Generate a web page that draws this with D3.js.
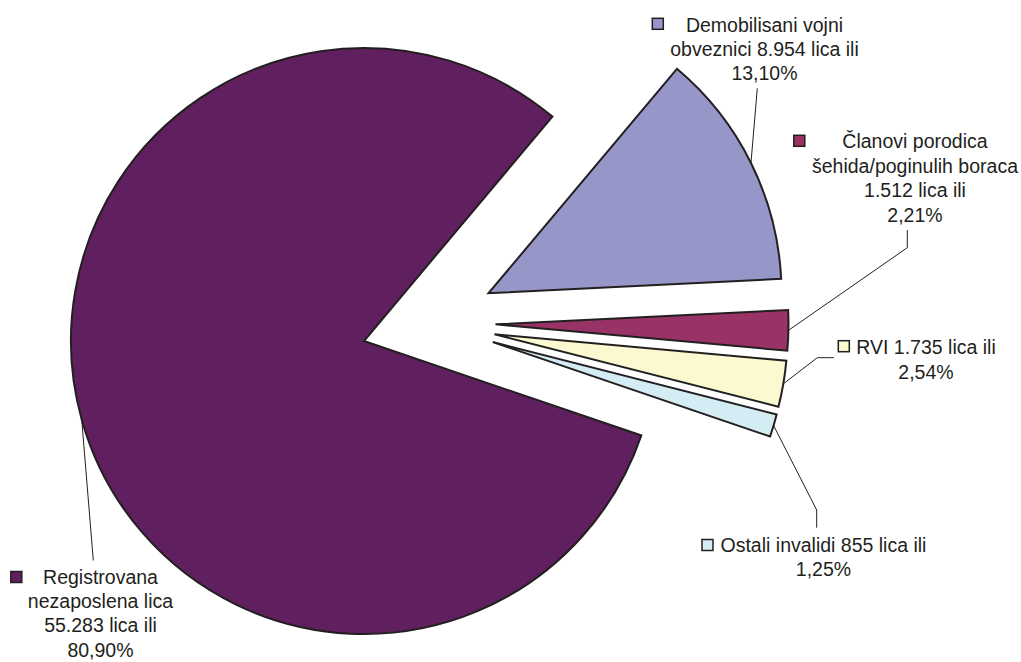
<!DOCTYPE html>
<html>
<head>
<meta charset="utf-8">
<script src="https://cdn.jsdelivr.net/npm/d3@7"></script>
<style>
  html, body { margin: 0; padding: 0; background: #ffffff; }
  svg { display: block; }
  text { font-family: "Liberation Sans", Arial, sans-serif; fill: #231f20; }
</style>
</head>
<body>
<svg id="chart" width="1021" height="662"></svg>
<script>
// ---- data ----
const categories = [
  "Registrovana nezaposlena lica",
  "Demobilisani vojni obveznici",
  "Članovi porodica šehida/poginulih boraca",
  "RVI",
  "Ostali invalidi"
];
const values = [55283, 8954, 1512, 1735, 855];
const percentLabels = ["80,90%", "13,10%", "2,21%", "2,54%", "1,25%"];
const labelLines = [
  ["Registrovana", "nezaposlena lica", "55.283 lica ili", "80,90%"],
  ["Demobilisani vojni", "obveznici 8.954 lica ili", "13,10%"],
  ["Članovi porodica", "šehida/poginulih boraca", "1.512 lica ili", "2,21%"],
  ["RVI 1.735 lica ili", "2,54%"],
  ["Ostali invalidi 855 lica ili", "1,25%"]
];
const colors = ["#601f5f", "#9696c8", "#993366", "#fbf9d0", "#d4ecf3"];

// ---- layout ----
const W = 1021, H = 662;
const cx = 428.5, cy = 323, R = 293, explode = 67;
const startDeg = 108.8;
const fontSize = 19.5;
// label layout: text centre x, first line centre y, line height, marker centre, leader path (label side)
const labelLayout = [
  { x: 100.5, y: 577,   lh: 24.2, mx: 16.3,  my: 577,   leader: [[93.3, 560.5]] },
  { x: 764.5, y: 25,    lh: 24.2, mx: 657.8, my: 23.8,  leader: [[757.3, 88.3]] },
  { x: 915,   y: 140.7, lh: 24.8, mx: 799.3, my: 140.8, leader: [[907.3, 247.7], [907.3, 230]] },
  { x: 926,   y: 346.7, lh: 25,   mx: 843.8, my: 346.2, leader: [[817.3, 357.7], [834, 357.7]] },
  { x: 823.5, y: 545,   lh: 23.5, mx: 707.5, my: 545,   leader: [[816.7, 510], [816.7, 527.7]] }
];

const svg = d3.select("#chart");
const toRad = Math.PI / 180;

const pie = d3.pie()
  .sort(null)
  .value(d => d)
  .startAngle(startDeg * toRad)
  .endAngle(startDeg * toRad + 2 * Math.PI);

const arcs = pie(values);
const arc = d3.arc().innerRadius(0).outerRadius(R);

const g = svg.append("g").attr("transform", `translate(${cx},${cy})`);

arcs.forEach((a) => {
  const mid = (a.startAngle + a.endAngle) / 2;
  a.offset = d3.pointRadial(mid, explode);
  a.mid = mid;
});

g.selectAll("path.slice")
  .data(arcs)
  .join("path")
  .attr("class", "slice")
  .attr("transform", d => `translate(${d.offset[0]},${d.offset[1]})`)
  .attr("d", arc)
  .attr("fill", (d, i) => colors[i])
  .attr("stroke", "#231f20")
  .attr("stroke-width", 2)
  .attr("stroke-linejoin", "miter")
  .attr("stroke-miterlimit", 4);

// leader lines
const line = d3.line();
arcs.forEach((a, i) => {
  const p = d3.pointRadial(a.mid, R);
  const start = [cx + a.offset[0] + p[0], cy + a.offset[1] + p[1]];
  const pts = [start].concat(labelLayout[i].leader);
  svg.append("path")
    .attr("d", line(pts))
    .attr("fill", "none")
    .attr("stroke", "#231f20")
    .attr("stroke-width", 1);
});

// labels
const mk = 11;
labelLines.forEach((lines, i) => {
  const L = labelLayout[i];
  svg.append("rect")
    .attr("x", L.mx - mk / 2)
    .attr("y", L.my - mk / 2)
    .attr("width", mk)
    .attr("height", mk)
    .attr("fill", colors[i])
    .attr("stroke", "#231f20")
    .attr("stroke-width", 1.5);
  const t = svg.append("text")
    .attr("text-anchor", "middle")
    .attr("font-size", fontSize);
  lines.forEach((s, k) => {
    t.append("tspan")
      .attr("x", L.x)
      .attr("y", L.y + k * L.lh)
      .attr("dy", "0.36em")
      .text(s);
  });
});
</script>
</body>
</html>
